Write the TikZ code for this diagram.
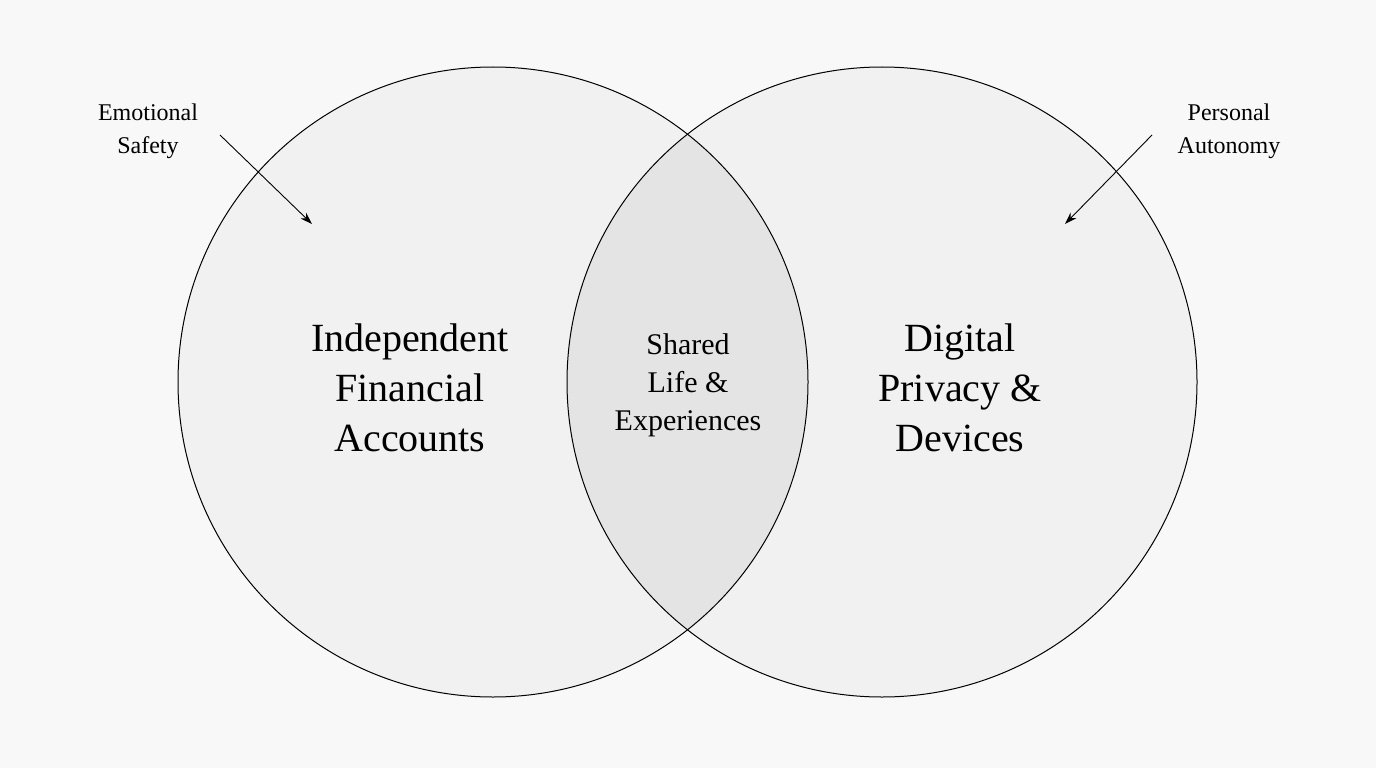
\documentclass[tikz,border=0pt]{standalone}
\usepackage{fontspec}
\setmainfont{Liberation Serif}
\usetikzlibrary{arrows.meta}
\definecolor{bg}{HTML}{F8F8F8}
\definecolor{circ}{HTML}{F1F1F1}
\definecolor{lens}{HTML}{E4E4E4}
\tikzset{
  big/.style={align=center,font=\fontsize{40}{50}\selectfont},
  mid/.style={align=center,font=\fontsize{30}{38}\selectfont},
  lab/.style={align=center,font=\fontsize{24}{33}\selectfont},
  arr/.style={-{Stealth[length=12pt,width=8pt]},line width=0.9pt}
}
\begin{document}
\begin{tikzpicture}[x=1pt,y=-1pt]
\fill[bg] (0,0) rectangle (1376,768);
\useasboundingbox (0,0) rectangle (1376,768);
\fill[circ] (493,382) circle (315);
\fill[circ] (882,382) circle (315);
\begin{scope}
\clip (493,382) circle (315);
\fill[lens] (882,382) circle (315);
\end{scope}
\draw[line width=1pt] (493,382) circle (315);
\draw[line width=1pt] (882,382) circle (315);
\node[big] (L) at (410,388) {Independent\\Financial\\Accounts};
\node[big] (R) at (960,388) {Digital\\Privacy \&\\Devices};
\node[mid] (M) at (688,385) {Shared\\Life \&\\Experiences};
\node[lab] (ES) at (148,131) {Emotional\\Safety};
\node[lab] (PA) at (1229,131) {Personal\\Autonomy};
\coordinate (ea) at (312,224);
\coordinate (pa) at (1065,224);
\draw[arr] (220,135) -- (ea);
\draw[arr] (1152,135) -- (pa);
\end{tikzpicture}
\end{document}
